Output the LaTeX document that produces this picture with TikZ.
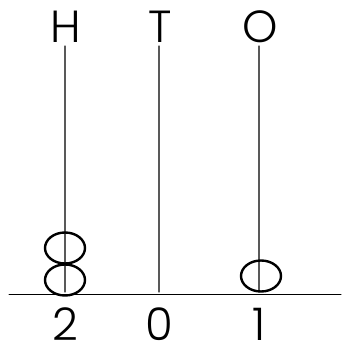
\documentclass[tikz,border=0pt]{standalone}
\usepackage{fontspec}
\setmainfont{Poppins}[UprightFont=* Light]
\begin{document}
\begin{tikzpicture}[x=1pt, y=-1pt, line join=round, line cap=round,
	font=\fontsize{45}{45}\selectfont,
	rod/.style={draw=black!65, line width=1.2pt},
	bead/.style={draw=black, line width=2.4pt}]
			\useasboundingbox (0,0) rectangle (341,356);
			\path
			(9,294) coordinate (L)
			(341,294) coordinate (R);
			
			\foreach \col/\x/\digit in {H/65/2, T/159/0, O/259/1}
			{
			\path
			(\x,46) coordinate (top\col)
			(\x,292) coordinate (bot\col);
			\draw[rod] (top\col)--(bot\col);
			\node (lab\col) at (\x+1,27) {\col};
			\node (num\col) at (\x,324) {\digit};
			}
			
			\draw[line width=1pt] (L)--(R);
			
			\foreach \cx/\cy in {65/248, 65/280, 261/276}
			\draw[bead] (\cx,\cy) ellipse (20 and 15.5);
		\end{tikzpicture}
\end{document}
